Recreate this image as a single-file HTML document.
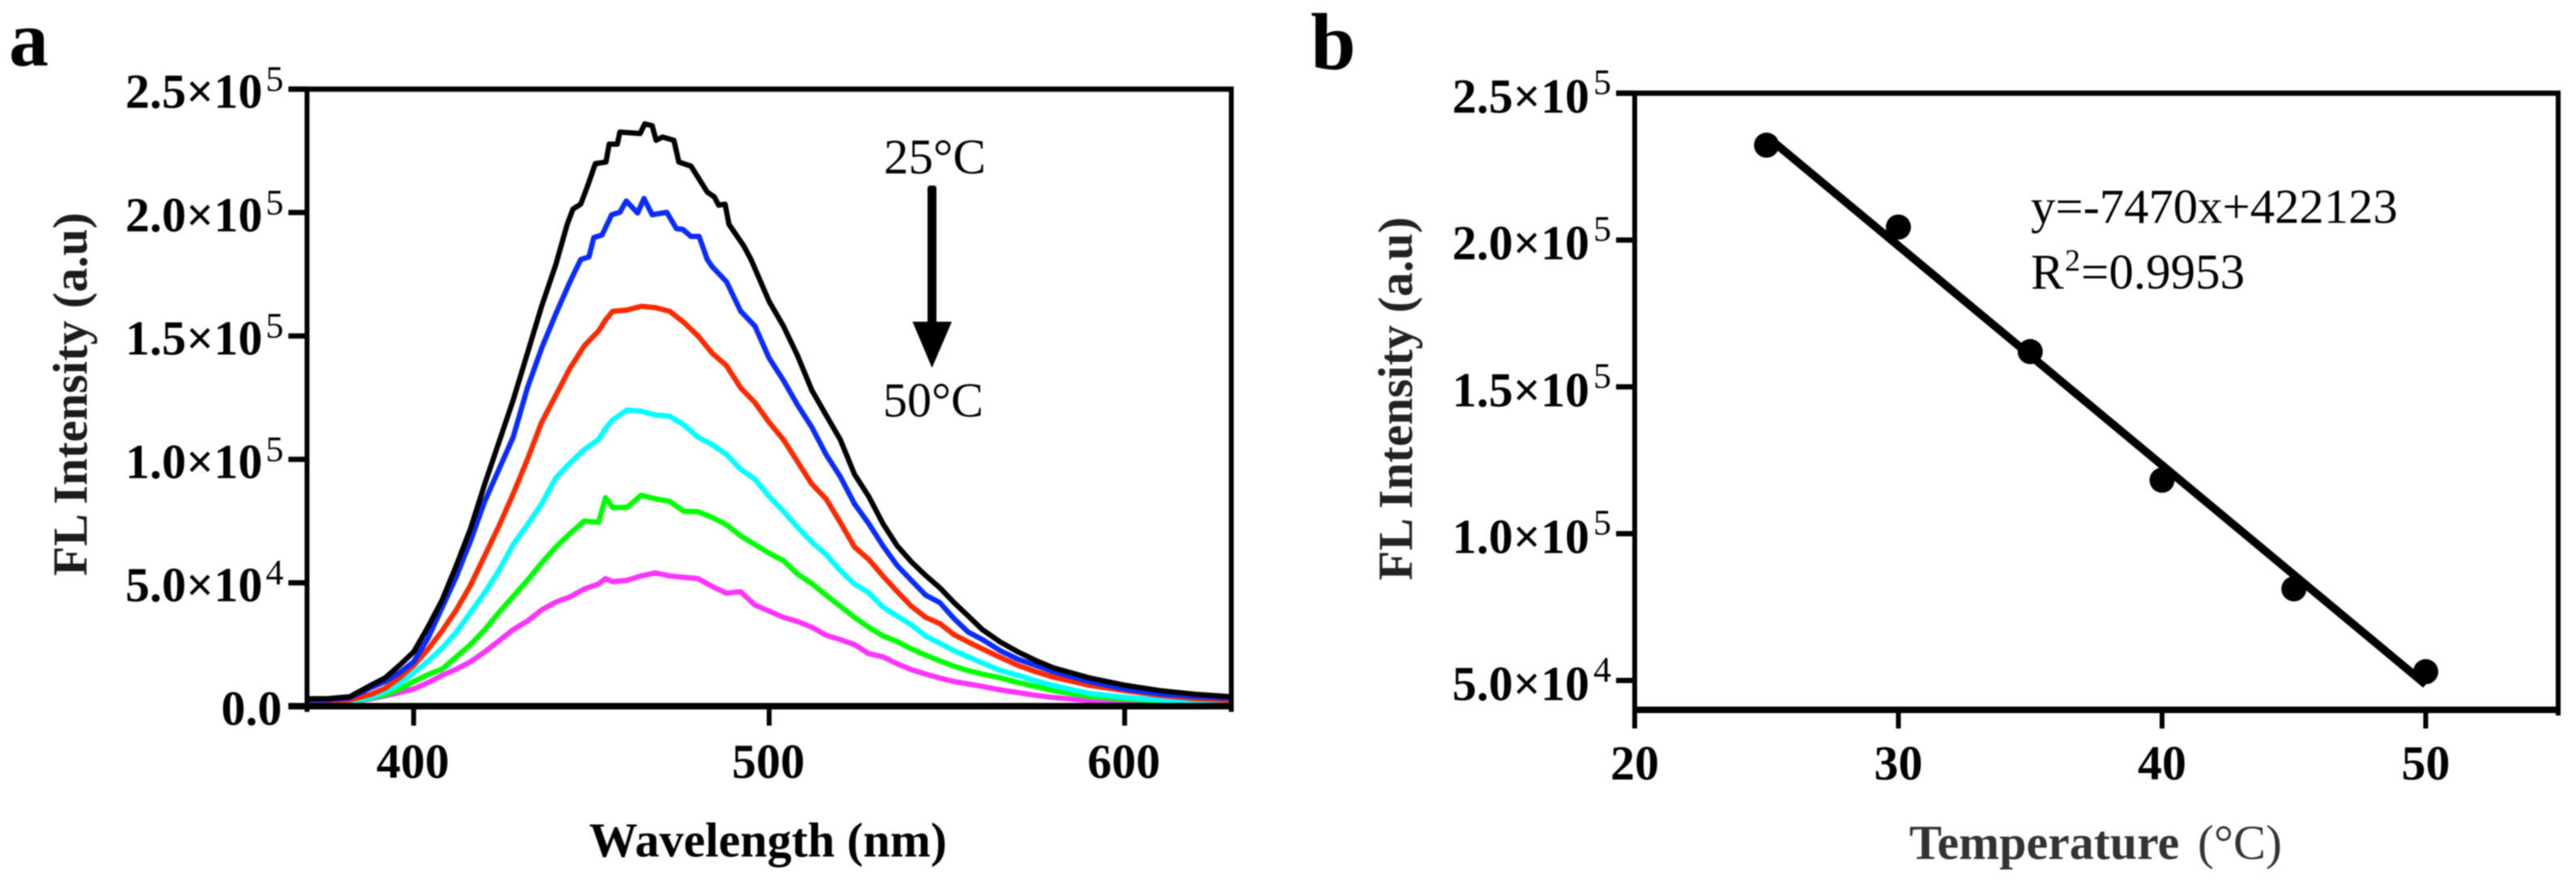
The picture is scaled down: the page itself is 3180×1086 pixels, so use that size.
<!DOCTYPE html>
<html lang="en">
<head>
<meta charset="utf-8">
<title>Fluorescence intensity vs temperature</title>
<style>
html,body{margin:0;padding:0;background:#fff;}
svg{display:block;filter:blur(0.7px);}
text{font-family:"Liberation Serif","Times New Roman",serif;fill:#000;}
.b{font-weight:700;}
</style>
</head>
<body>
<svg id="fig" xmlns="http://www.w3.org/2000/svg" width="3180" height="1086" viewBox="0 0 3180 1086">
  <rect width="3180" height="1086" fill="#fff"/>
  <text class="b" x="11" y="81" font-size="98">a</text>
  <text class="b" x="1618" y="85" font-size="100">b</text>
  <g id="panelA"></g>
  <g id="panelB"></g>
  <text class="b" font-size="60" style="fill:#1c1c1c" text-anchor="middle" transform="translate(107,486.5) rotate(-90)">FL Intensity (a.u)</text>
  <text class="b" font-size="60" text-anchor="middle" x="948" y="1057">Wavelength (nm)</text>
  <text class="b" font-size="60" style="fill:#222" text-anchor="middle" transform="translate(1743,492) rotate(-90)">FL Intensity (a.u)</text>
  <text font-size="60" style="fill:#333" x="2357" y="1060"><tspan class="b">Temperature</tspan><tspan x="2713">(°C)</tspan></text>
  <text font-size="61" x="1091" y="214">25°C</text>
  <text font-size="60" x="1090" y="514">50°C</text>
  <g>
    <rect x="1145" y="229" width="11" height="172" rx="3" fill="#000"/>
    <polygon points="1126.5,397 1175,397 1150.5,454" fill="#000"/>
  </g>
  <text font-size="60.7" x="2507" y="275">y=-7470x+422123</text>
  <text font-size="61" x="2507" y="356">R</text>
  <text font-size="38" x="2549" y="334">2</text>
  <text font-size="61" x="2569" y="356">=0.9953</text>
</svg>
<script>
// Panel a data (intensity in thousands of counts)
const wavelengths = [370,376,382,388,392,396,400,404,408,412,416,420,424,428,432,436,440,444,448,452,454,456,460,464,468,472,476,480,484,488,492,496,500,504,508,512,516,520,524,528,532,536,540,544,548,552,556,560,565,570,575,580,590,600,610,620,630];
const wavelengths25C = [370,376,382,388,392,396,400,404,408,412,416,420,424,428,432,436,440,443.2,444.8,447,448.9,451.1,454.1,455,457.3,458,463.7,465,467.1,468.2,470,473.2,474.6,478,482.6,484.6,485.8,487.6,488.7,492.8,494.9,500,504,508,512,516,520,524,528,532,536,540,544,548,552,556,560,565,570,575,580,590,600,610,620,630];
const intensity25C = [3,3.1,3.8,8.5,11.5,16.5,22,32,43,57,72,90,107,124,143,162,179,195.2,201.4,203.4,210.6,219.8,220.5,227.7,227.7,232.6,232,235.9,235.2,229.3,230.6,229.3,220.5,218.8,208.3,206.3,203,203.4,195.2,186.6,181,164,154,142,128,118,108,94,85,74,65,58.5,53,48,42,36.5,31,26,22,18.5,15.5,11.5,8.5,6.3,4.8,3.8];
const wavelengths30C = [370,376,382,388,392,396,400,404,408,412,416,420,424,428,432,436,440,444,447,449.3,450.7,453,455.7,458,459.8,463,464.8,467.1,471.2,473.9,475.7,478,480.3,482.6,484,488,492,496,500,504,508,512,516,520,524,528,532,536,540,544,548,552,556,560,565,570,575,580,590,600,610,620,630];
const intensity30C = [2.5,2.6,3.4,7.5,10,13.5,18,27.5,40,52.5,67,83,96,109,129,145,159,172,181,182,189.9,190.9,199.1,200.1,204.7,199.8,205.7,199.1,200.1,193.5,193.2,190.3,190.3,181,178,172,160,154,141,132,122,113,102,93,82,74,65,57,51,45,42,35.5,30,27,22.5,19,16.5,14,10,7,5,3.9,3.2];
const intensity35C = [2,2.1,2.5,4.8,7.3,11.5,16.5,23,30.5,39,49,61,73,86,100,115,126,137,146,152,156.5,160,160.5,162,161.5,160,155.5,150,143,138,129,123,115,108,99,90,84,74.5,64.5,59.5,52.8,46.5,40.5,36,33.5,29,26,23.2,19.8,16.5,14,11.8,8.5,6.3,4.4,3,2.4];
const intensity40C = [1.8,1.8,2,3.6,5.8,9,13.5,18.2,23.5,30,38,46,55,65.5,73.5,82,92.5,98.5,104,108,112.5,116,120,119.5,118,117.5,114,109,106,102,96,92,85,79,72.5,66.5,61.5,55,49.5,46,40.2,36.5,33,28.5,25.5,22.5,20,17.5,14.5,12.5,10.3,8.3,5.2,3.6,2.5,1.9,1.5];
const intensity45C = [1.6,1.6,1.8,3.3,4.7,6.8,10,12.8,15,20,25,31,38,44.5,51,58,64.5,70,75,74.5,84.5,80.5,80.5,85.5,84,83,79,78.8,76.5,73.5,69,65.5,62,59,53.5,49.7,45,40.5,36,32,28.5,26.2,23.2,20.7,18.4,16.2,14.4,13,11.5,9.6,8,6.3,3.9,2.9,2.1,1.5,1.2];
const intensity50C = [1.4,1.4,1.6,3,4.2,5.5,7,9.5,12.5,15,18,22,26.5,31,34.5,39,42.2,44.3,47.5,49.5,51.7,50.5,51,52.8,54,52.8,52.2,51.7,48.5,45.8,46.4,41,38.5,36,34.3,32,28.8,27,25,21.3,20,17.2,14.8,13,11.4,10,9,8,6.6,5.5,4.4,3.5,2.3,1.7,1.3,1.1,1];
const spectraSeriesNames = ['25C','30C','35C','40C','45C','50C'];
const spectraTicksX = [400,500,600];
const spectraTicksY = [0,50000,100000,150000,200000,250000];
const spectraLabelsY = ['0.0','5.0×10','1.0×10','1.5×10','2.0×10','2.5×10'];
const spectraExponentsY = ['','4','5','5','5','5'];

// Panel b data
const temperatures = [25,30,35,40,45,50];
const peakIntensity = [232300,204400,162000,118200,81200,53000];
const fitSlope = [-7470];
const fitIntercept = [422123];
const calibrationTicksX = [20,30,40,50];
const calibrationTicksY = [50000,100000,150000,200000,250000];
const calibrationLabelsY = ['5.0×10','1.0×10','1.5×10','2.0×10','2.5×10'];
const calibrationExponentsY = ['4','5','5','5','5'];

const SVGNS = 'http://www.w3.org/2000/svg';
function mk(tag, attrs, parent) {
  const el = document.createElementNS(SVGNS, tag);
  for (const k in attrs) el.setAttribute(k, attrs[k]);
  parent.appendChild(el);
  return el;
}
function hline(parent, x1, x2, y, w) {
  return mk('line', {x1: x1, x2: x2, y1: y, y2: y, stroke: '#000', 'stroke-width': w}, parent);
}
function vline(parent, x, y1, y2, w) {
  return mk('line', {x1: x, x2: x, y1: y1, y2: y2, stroke: '#000', 'stroke-width': w}, parent);
}

/* ---------- Panel a ---------- */
const gA = document.getElementById('panelA');
const A = {l: 379, r: 1520, t: 110, b: 871.5, xmin: 370, xmax: 630, ymax: 250000};
function xA(w) { return A.l + (w - A.xmin) * (A.r - A.l) / (A.xmax - A.xmin); }
function yA(v) { return A.b - v * (A.b - A.t) / A.ymax; }

const spectraColors = {'25C': '#000000', '30C': '#0a2cff', '35C': '#ff2a00', '40C': '#00ffff', '45C': '#00ff00', '50C': '#ff33ff'};
const spectraValues = {'25C': intensity25C, '30C': intensity30C, '35C': intensity35C, '40C': intensity40C, '45C': intensity45C, '50C': intensity50C};
const spectraGrid = {'25C': wavelengths25C, '30C': wavelengths30C, '35C': wavelengths, '40C': wavelengths, '45C': wavelengths, '50C': wavelengths};
const drawOrder = spectraSeriesNames.slice().reverse();

drawOrder.forEach(function (name) {
  const pts = spectraGrid[name].map(function (w, i) {
    return xA(w).toFixed(1) + ',' + yA(spectraValues[name][i] * 1000).toFixed(1);
  }).join(' ');
  const line = mk('polyline', {points: pts, fill: 'none', stroke: spectraColors[name], 'stroke-width': 6.5, 'stroke-linejoin': 'round'}, gA);
  
  
});

const frameA = [
  hline(gA, 356, A.r + 3, A.t, 6.5),
  hline(gA, 356, A.r + 3, A.b, 8),
  vline(gA, A.l, A.t - 3, A.b + 7, 6),
  vline(gA, A.r, A.t - 3, A.b + 7, 6)
];
frameA.forEach(function (el) {
  
  
});

spectraTicksX.forEach(function (w) {
  const t = vline(gA, xA(w), A.b, A.b + 24, 6);
  
  
  const lab = mk('text', {x: xA(w) - 1, y: 960, 'font-size': 60, 'text-anchor': 'middle', class: 'b'}, gA);
  lab.textContent = String(w);
  
  
});

spectraTicksY.forEach(function (v, i) {
  const y = yA(v);
  const t = hline(gA, 356, A.l, y, 6.5);
  
  
  const hasExp = spectraExponentsY[i] !== '';
  const lab = mk('text', {x: hasExp ? 324 : 348, y: y + 23, 'font-size': 60, 'text-anchor': 'end', class: 'b'}, gA);
  lab.textContent = spectraLabelsY[i];
  
  
  if (hasExp) {
    const sup = mk('text', {x: 328, y: y + 2, 'font-size': 44}, gA);
    sup.textContent = spectraExponentsY[i];
    
    
  }
});

/* ---------- Panel b ---------- */
const gB = document.getElementById('panelB');
const B = {l: 2018, r: 3158, t: 115, b: 876, xmin: 20, xmax: 55, ymin: 40000, ymax: 250000};
function xB(t) { return B.l + (t - B.xmin) * 32.55; }
function yB(v) { return B.b - (v - B.ymin) * (B.b - B.t) / (B.ymax - B.ymin); }

const frameB = [
  hline(gB, 1995, B.r + 3, B.t, 6.5),
  hline(gB, B.l - 3, B.r + 3, B.b, 8),
  vline(gB, B.l, B.t - 3, B.b + 23, 6),
  vline(gB, B.r, B.t - 3, B.b + 7, 6)
];
frameB.forEach(function (el) {
  
  
});

calibrationTicksX.forEach(function (c) {
  const t = vline(gB, xB(c), B.b, B.b + 23, 6);
  
  
  const lab = mk('text', {x: xB(c), y: 962, 'font-size': 60, 'text-anchor': 'middle', class: 'b'}, gB);
  lab.textContent = String(c);
  
  
});

calibrationTicksY.forEach(function (v, i) {
  const y = yB(v);
  const t = hline(gB, 1995, B.l, y, 6.5);
  
  
  const lab = mk('text', {x: 1962, y: y + 24, 'font-size': 60, 'text-anchor': 'end', class: 'b'}, gB);
  lab.textContent = calibrationLabelsY[i];
  
  
  const sup = mk('text', {x: 1967, y: y + 1, 'font-size': 44}, gB);
  sup.textContent = calibrationExponentsY[i];
  
  
});

const tFirst = temperatures[0];
const tLast = temperatures[temperatures.length - 1];
const fitLine = mk('line', {
  x1: xB(tFirst), y1: yB(fitSlope[0] * tFirst + fitIntercept[0]),
  x2: xB(tLast), y2: yB(fitSlope[0] * tLast + fitIntercept[0]),
  stroke: '#000', 'stroke-width': 10
}, gB);



temperatures.forEach(function (c, i) {
  const dot = mk('circle', {cx: xB(c), cy: yB(peakIntensity[i]), r: 15.5, fill: '#000'}, gB);
  
  
});
</script>
</body>
</html>
